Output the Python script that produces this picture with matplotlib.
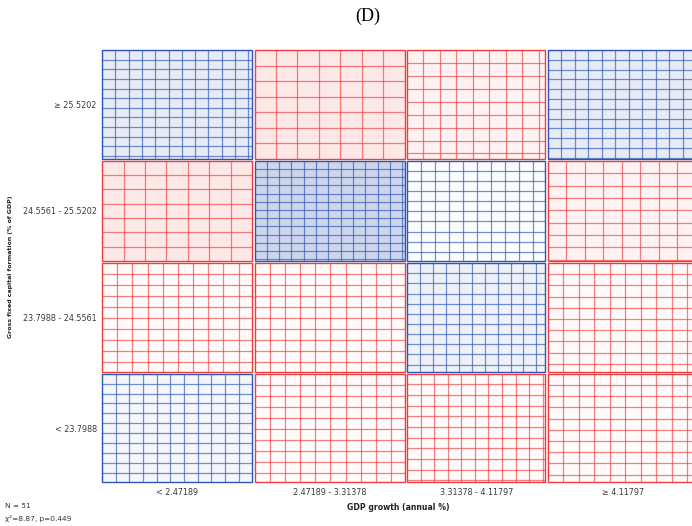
import numpy as np
import matplotlib
matplotlib.use("Agg")
import matplotlib.pyplot as plt
from matplotlib.patches import Rectangle

# Sieve diagram: GDP growth vs gross fixed capital formation
ROW_LABELS = ["≥ 25.5202", "24.5561 - 25.5202", "23.7988 - 24.5561", "< 23.7988"]
COL_LABELS = ["< 2.47189", "2.47189 - 3.31378", "3.31378 - 4.11797", "≥ 4.11797"]
ROW_COUNTS = [13, 12, 13, 13]
COL_COUNTS = [13, 13, 12, 13]

# sieve divisions per cell side (rows top -> bottom, cols left -> right)
SIEVE_N = [
    [11.3, 7.0, 8.4, 11.1],
    [7.0, 12.2, 9.9, 8.1],
    [9.9, 9.9, 10.7, 9.7],
    [11.0, 9.9, 10.2, 9.7],
]
# approx. standardized residuals (sign -> colour, size -> shade)
RESID = [
    [1.0, -1.0, -0.55, 1.0],
    [-1.0, 2.0, 0.15, -0.55],
    [-0.15, -0.15, 0.7, -0.2],
    [0.45, -0.15, -0.15, -0.15],
]
N_TOTAL = 51
CHI2, P_VALUE = 8.87, 0.449

BLUE_LINE = "#2d55b4"
RED_LINE = "#f03c3c"
BLUE_BASE = np.array([50, 85, 175]) / 255
RED_BASE = np.array([240, 60, 60]) / 255
GAP_PX = 2.2

plt.rcParams.update({
    "font.family": "DejaVu Sans",
    "font.size": 6,
})

W, H = 692, 526
fig = plt.figure(figsize=(W / 100, H / 100), dpi=100)
sx0, sy0, sw, sh = 101, 49, 598, 434.5
ax = fig.add_axes([sx0 / W, 1 - (sy0 + sh) / H, sw / W, sh / H])

tot_x = sum(COL_COUNTS)
tot_y = sum(ROW_COUNTS)
ax.set_xlim(0, tot_x)
ax.set_ylim(tot_y, 0)

gx = GAP_PX * tot_x / sw
gy = GAP_PX * tot_y / sh
col_start = np.concatenate([[0], np.cumsum(COL_COUNTS)[:-1]])
row_start = np.concatenate([[0], np.cumsum(ROW_COUNTS)[:-1]])

for i, rc in enumerate(ROW_COUNTS):
    for j, cc in enumerate(COL_COUNTS):
        x0 = col_start[j] + gx / 2
        y0 = row_start[i] + gy / 2
        w = cc - gx
        h = rc - gy
        r = RESID[i][j]
        t = min(0.12 * abs(r), 0.3)
        base = BLUE_BASE if r > 0 else RED_BASE
        fill = 1 - t * (1 - base)
        lc = BLUE_LINE if r > 0 else RED_LINE

        ax.add_patch(Rectangle((x0, y0), w, h, facecolor=fill,
                               edgecolor=lc, linewidth=1.0, zorder=1))
        n = SIEVE_N[i][j]
        stepx, stepy = w / n, h / n
        xs = x0 + stepx * np.arange(1, int(np.ceil(n)))
        xs = xs[xs < x0 + w - 0.02]
        ys = y0 + stepy * np.arange(1, int(np.ceil(n)))
        ys = ys[ys < y0 + h - 0.02]
        ax.vlines(xs, y0, y0 + h, colors=lc, linewidth=0.9, alpha=0.65, zorder=2)
        ax.hlines(ys, x0, x0 + w, colors=lc, linewidth=0.9, alpha=0.65, zorder=2)

for s in ax.spines.values():
    s.set_visible(False)
ax.set_xticks(col_start + np.array(COL_COUNTS) / 2)
ax.set_xticklabels(COL_LABELS, fontsize=5.8, color="#3a3a3a")
ax.set_yticks(row_start + np.array(ROW_COUNTS) / 2)
ax.set_yticklabels(ROW_LABELS, fontsize=5.8, color="#3a3a3a")
ax.tick_params(length=0, pad=3)

ax.set_xlabel("GDP growth (annual %)", fontsize=5.6, fontweight="bold", color="#222222")
ax.xaxis.set_label_coords((398 - sx0) / sw, -(503 - sy0 - sh) / sh)
ax.set_ylabel("Gross fixed capital formation (% of GDP)", fontsize=4.5,
              fontweight="bold", color="#222222")
ax.yaxis.set_label_coords((13 - sx0) / sw, 0.5)

fig.text(368 / W, 1 - 16 / H, "(D)", family="Liberation Serif", fontsize=13,
         ha="center", va="center")
fig.text(5 / W, 1 - 506 / H, f"N = {N_TOTAL}", fontsize=5.3, color="#333333",
         ha="left", va="center")
fig.text(5 / W, 1 - 518 / H, f"χ²={CHI2:.2f}, p={P_VALUE:.3f}", fontsize=5.3,
         color="#333333", ha="left", va="center")

fig.savefig("out.png", dpi=100)
